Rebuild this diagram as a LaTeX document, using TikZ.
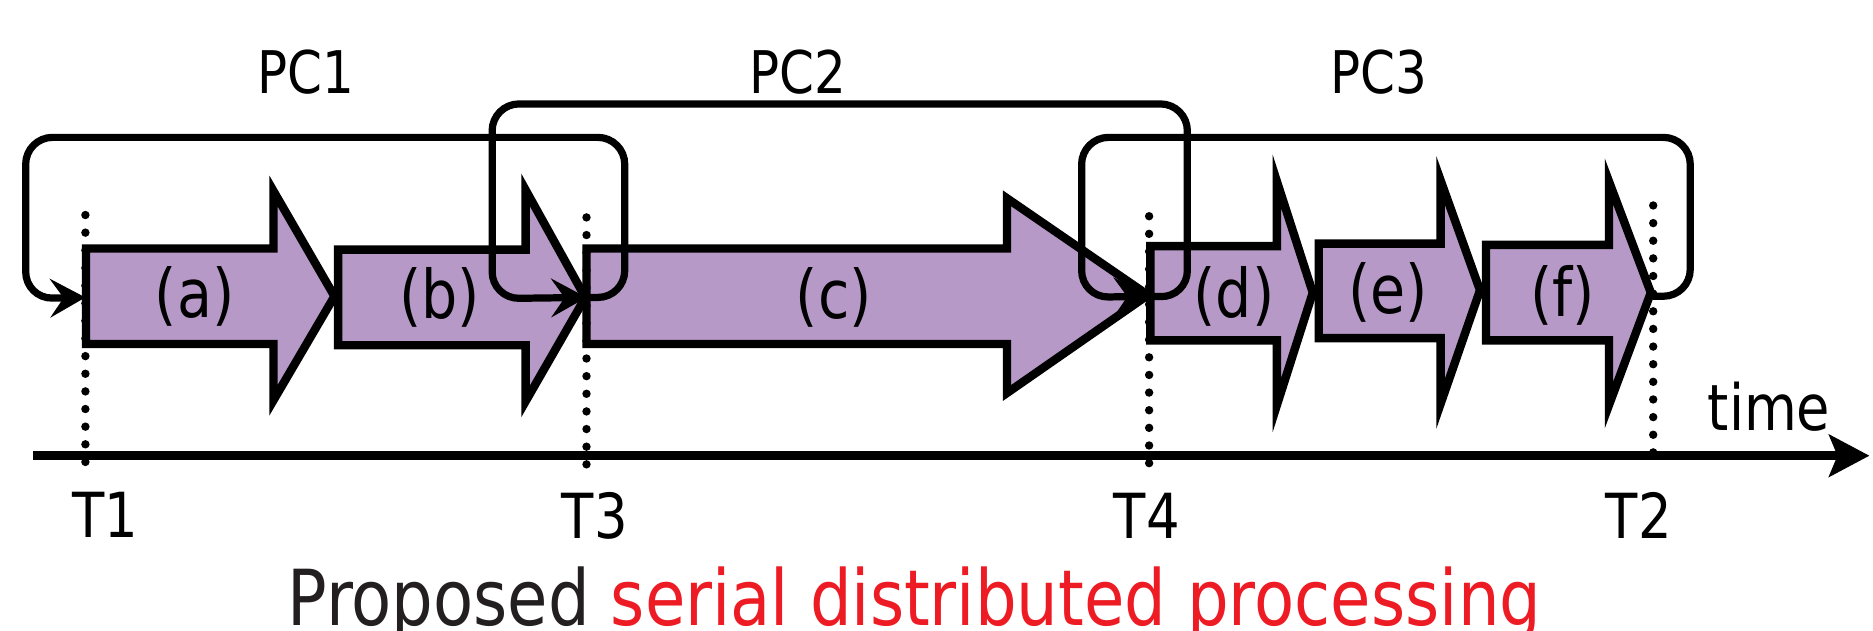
\documentclass[tikz,border=0pt]{standalone}
\usepackage{fontspec}
\setmainfont{DejaVu Sans}[FakeStretch=0.85]
\usetikzlibrary{arrows.meta}
\definecolor{taskfill}{RGB}{183,153,199}
\definecolor{capred}{RGB}{237,28,36}
\definecolor{capdark}{RGB}{35,31,32}
\begin{document}
\begin{tikzpicture}[x=0.025cm,y=-0.025cm,
  taskarrow/.style={draw=black, fill=taskfill, line width=5pt, line join=miter},
  tasklabel/.style={font=\fontsize{40}{40}\selectfont, inner sep=0pt},
  pclabel/.style={font=\fontsize{35}{35}\selectfont, inner sep=0pt, anchor=base},
  tlabel/.style={font=\fontsize{37}{37}\selectfont, inner sep=0pt, anchor=base},
  timemark/.style={line width=5pt, line cap=round, dash pattern=on 0pt off 10.5pt},
  pcloop/.style={draw=black, line width=4.3pt, rounded corners=16pt,
    -{Stealth[length=21pt,width=23pt,inset=8pt]}},
  timeaxis/.style={line width=5.5pt, -{Stealth[length=24pt,width=25pt,inset=5pt]}}]
\useasboundingbox (0,0) rectangle (1568,528);

% time points on the process boundaries
\coordinate (T1) at (71.5,249);
\coordinate (T3) at (491,249);
\coordinate (T4) at (962,248);
\coordinate (T2) at (1384,248);

% processing steps
\draw[taskarrow] (72,208) -- (229,208) -- (229,160) -- (280,248) -- (229,335) -- (229,288) -- (72,288) -- cycle;
\draw[taskarrow] (283,209) -- (440,209) -- (440,159) -- (490,249) -- (440,336) -- (440,289) -- (283,289) -- cycle;
\draw[taskarrow] (491,208) -- (843,208) -- (843,166) -- (961,247) -- (843,329) -- (843,288) -- (491,288) -- cycle;
\draw[taskarrow] (963,206) -- (1069,206) -- (1069,152) -- (1099,245) -- (1069,339) -- (1069,285) -- (963,285) -- cycle;
\draw[taskarrow] (1104,204) -- (1206,204) -- (1206,151) -- (1239,243) -- (1206,338) -- (1206,283) -- (1104,283) -- cycle;
\draw[taskarrow] (1244,205) -- (1347,205) -- (1347,152) -- (1382,245) -- (1347,339) -- (1347,285) -- (1244,285) -- cycle;

\node[tasklabel] (la) at (163,248) {(a)};
\node[tasklabel] (lb) at (368,249) {(b)};
\node[tasklabel] (lc) at (698,249) {(c)};
\node[tasklabel] (ld) at (1033,248) {(d)};
\node[tasklabel] (le) at (1162,245) {(e)};
\node[tasklabel] (lf) at (1308,247) {(f)};

% dotted time markers
\draw[timemark] (71.5,180) -- (71.5,396);
\draw[timemark] (491,182) -- (491,396);
\draw[timemark] (962,181) -- (962,398);
\draw[timemark] (1384,172) -- (1384,390);

% PC hand-over loops
\draw[pcloop] (T3) -- (523,249) -- (523,115) -- (21.5,115) -- (21.5,250) -- (T1);
\draw[pcloop] (T4) -- (994,249) -- (994,87) -- (412,87) -- (412,250) -- (T3);
\draw[pcloop] (T2) -- (1415,248) -- (1415,115) -- (905.5,115) -- (905.5,249) -- (T4);

\node[pclabel] (pc1) at (256,78) {PC1};
\node[pclabel] (pc2) at (668,78) {PC2};
\node[pclabel] (pc3) at (1154,78) {PC3};

% time axis
\coordinate (axL) at (28,381.5);
\coordinate (axR) at (1565,381.5);
\draw[timeaxis] (axL) -- (axR);
\node[font=\fontsize{38}{38}\selectfont, inner sep=0pt, anchor=base] (time) at (1481,360) {time};

\node[tlabel] (lT1) at (88,450) {T1};
\node[tlabel] (lT3) at (498,451) {T3};
\node[tlabel] (lT4) at (960,451) {T4};
\node[tlabel] (lT2) at (1372,451) {T2};

% caption
\node[font=\fontsize{46}{46}\selectfont, inner sep=0pt, anchor=base] (cap) at (765.5,524)
  {\textcolor{capdark}{Proposed} \textcolor{capred}{serial distributed processing}};
\end{tikzpicture}
\end{document}
